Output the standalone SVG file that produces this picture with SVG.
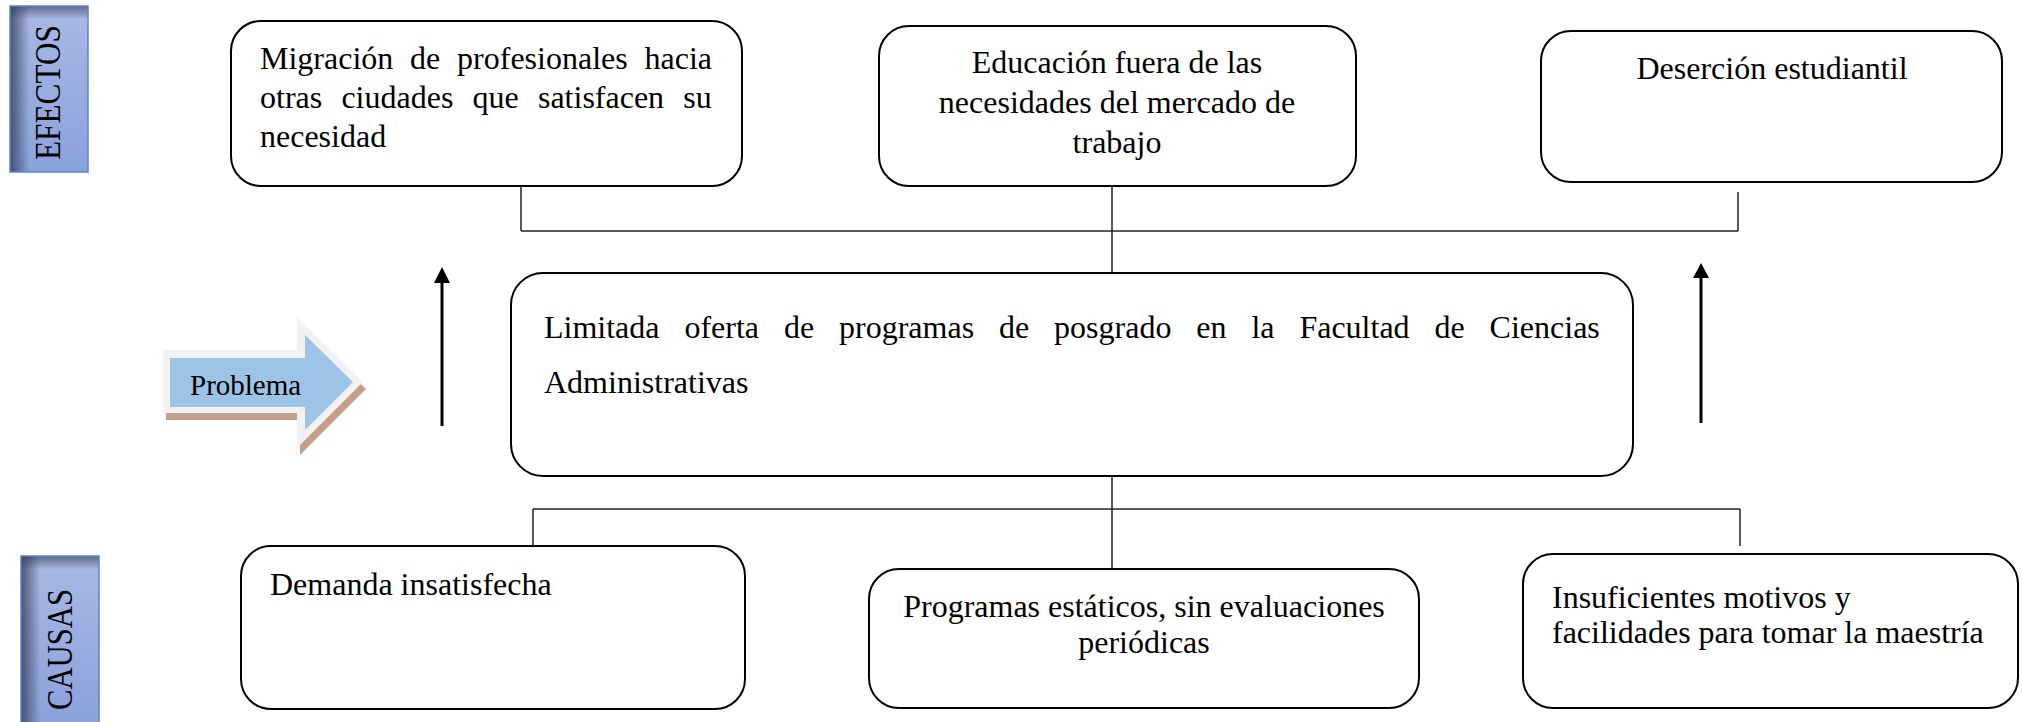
<svg xmlns="http://www.w3.org/2000/svg" width="2022" height="722" viewBox="0 0 2022 722">
<style>
.box{fill:#fff;stroke:#000;stroke-width:2}
.t{font-family:"Liberation Serif","Times New Roman",serif;font-size:32px;fill:#000}
.c{text-anchor:middle}
.conn line{stroke:#222;stroke-width:1.5}
.conn line.arr{stroke:#000;stroke-width:3}
.head{fill:#000}
.lab{font-family:"Liberation Serif","Times New Roman",serif;fill:#000;text-anchor:middle}
</style>
<defs>
<linearGradient id="blue" x1="0" y1="0" x2="0" y2="1">
<stop offset="0" stop-color="#a9b9e4"/>
<stop offset="1" stop-color="#8aa1da"/>
</linearGradient>
<linearGradient id="shL" x1="0" y1="0" x2="1" y2="0">
<stop offset="0" stop-color="#2c3550" stop-opacity="0.75"/>
<stop offset="0.25" stop-color="#2c3550" stop-opacity="0"/>
</linearGradient>
<linearGradient id="shT" x1="0" y1="0" x2="0" y2="1">
<stop offset="0" stop-color="#2c3550" stop-opacity="0.6"/>
<stop offset="0.08" stop-color="#2c3550" stop-opacity="0"/>
</linearGradient>
</defs>

<g id="efectos">
<rect x="10" y="6" width="78" height="166" fill="url(#blue)"/>
<rect x="10" y="6" width="78" height="166" fill="url(#shL)"/>
<rect x="10" y="6" width="78" height="166" fill="url(#shT)"/>
<rect x="10" y="6" width="78" height="166" fill="none" stroke="#5b84c8" stroke-width="1.5"/>
<text class="lab" font-size="36" transform="translate(60,92.5) rotate(-90)" textLength="135" lengthAdjust="spacingAndGlyphs">EFECTOS</text>
</g>

<g id="causas">
<rect x="21" y="556" width="78" height="170" fill="url(#blue)"/>
<rect x="21" y="556" width="78" height="170" fill="url(#shL)"/>
<rect x="21" y="556" width="78" height="170" fill="url(#shT)"/>
<rect x="21" y="556" width="78" height="170" fill="none" stroke="#5b84c8" stroke-width="1.5"/>
<text class="lab" font-size="35" transform="translate(72,649.5) rotate(-90)" textLength="121" lengthAdjust="spacingAndGlyphs">CAUSAS</text>
</g>

<g id="problema">
<polygon points="166,357 300,357 300,324 366,389 300,455 300,420 166,420" fill="#c4a08a"/>
<polygon points="163,350 297,350 297,317 363,382 297,448 297,413 163,413" fill="#f2f2f2"/>
<polygon points="170,358 305,358 305,335 353,382 305,430 305,407 170,407" fill="#9dc3e6"/>
<text x="190" y="395" font-family="Liberation Serif, Times New Roman, serif" font-size="29" fill="#000">Problema</text>
</g>

<g id="efecto1">
<rect class="box" x="231" y="21" width="511" height="165" rx="30"/>
<text class="t" x="260" y="69" word-spacing="8.8">Migración de profesionales hacia</text>
<text class="t" x="260" y="108" word-spacing="11.2">otras ciudades que satisfacen su</text>
<text class="t" x="260" y="147">necesidad</text>
</g>

<g id="efecto2">
<rect class="box" x="879" y="26" width="477" height="160" rx="30"/>
<text class="t c" x="1117" y="73">Educación fuera de las</text>
<text class="t c" x="1117" y="113">necesidades del mercado de</text>
<text class="t c" x="1117" y="153">trabajo</text>
</g>

<g id="efecto3">
<rect class="box" x="1541" y="31" width="461" height="151" rx="30"/>
<text class="t c" x="1772" y="79">Deserción estudiantil</text>
</g>

<g id="problema-central">
<rect class="box" x="511" y="273" width="1122" height="203" rx="32"/>
<text class="t" x="544" y="338" word-spacing="16.9">Limitada oferta de programas de posgrado en la Facultad de Ciencias</text>
<text class="t" x="544" y="393">Administrativas</text>
</g>

<g id="causa1">
<rect class="box" x="241" y="546" width="504" height="163" rx="30"/>
<text class="t" x="270" y="595">Demanda insatisfecha</text>
</g>

<g id="causa2">
<rect class="box" x="869" y="569" width="550" height="139" rx="30"/>
<text class="t c" x="1144" y="617">Programas estáticos, sin evaluaciones</text>
<text class="t c" x="1144" y="653">periódicas</text>
</g>

<g id="causa3">
<rect class="box" x="1523" y="554" width="495" height="154" rx="30"/>
<text class="t" x="1552" y="608">Insuficientes motivos y</text>
<text class="t" x="1552" y="643">facilidades para tomar la maestría</text>
</g>

<g id="connectors" class="conn">
<line x1="521" y1="186" x2="521" y2="231"/>
<line x1="1112" y1="186" x2="1112" y2="273"/>
<line x1="1738" y1="192" x2="1738" y2="231"/>
<line x1="521" y1="231" x2="1738" y2="231"/>
<line x1="1112" y1="476" x2="1112" y2="569"/>
<line x1="533" y1="509" x2="1740" y2="509"/>
<line x1="533" y1="509" x2="533" y2="546"/>
<line x1="1740" y1="509" x2="1740" y2="546"/>
<line class="arr" x1="442" y1="426" x2="442" y2="282"/>
<polygon class="head" points="442,267 450,283 434,283"/>
<line class="arr" x1="1701" y1="423" x2="1701" y2="277"/>
<polygon class="head" points="1701,263 1709,278 1693,278"/>
</g>
</svg>
